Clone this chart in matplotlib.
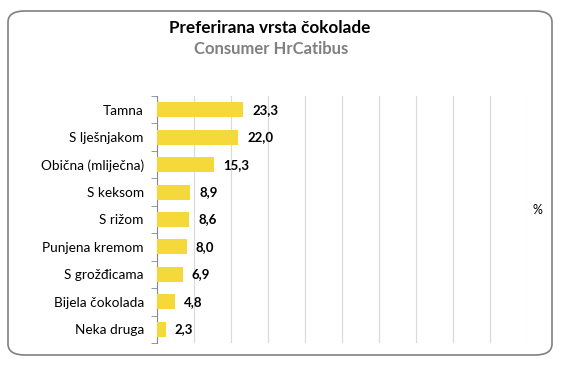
import matplotlib.pyplot as plt
from matplotlib.patches import FancyBboxPatch

categories = ['Tamna', 'S lješnjakom', 'Obična (mliječna)', 'S keksom', 'S rižom',
              'Punjena kremom', 'S grožđicama', 'Bijela čokolada', 'Neka druga']
values = [23.3, 22.0, 15.3, 8.9, 8.6, 8.0, 6.9, 4.8, 2.3]

plt.rcParams['font.family'] = ['Lato', 'DejaVu Sans']

W, H = 564, 371
fig = plt.figure(figsize=(W / 100, H / 100), dpi=100)

# rounded outer frame
frame = FancyBboxPatch((8 / W, 1 - 355 / H), (552 - 8) / W, (355 - 11) / H,
                       boxstyle='round,pad=0,rounding_size=0.03',
                       transform=fig.transFigure, facecolor='white',
                       edgecolor='#808080', linewidth=1.2, zorder=-1)
fig.patches.append(frame)

ax = fig.add_axes([157 / W, 1 - 343 / H, (527 - 157) / W, (343 - 96) / H])
ax.set_facecolor('none')
ax.set_zorder(2)

y = range(len(categories))
ax.barh(y, values, height=0.55, color='#F5D93A', zorder=3)
for i, v in enumerate(values):
    ax.text(v + 2.5, i, f'{v:.1f}'.replace('.', ','), va='center', ha='left',
            fontsize=9.5, fontweight='bold', color='black')

ax.set_xlim(0, 100)
ax.set_ylim(len(categories) - 0.5, -0.5)
ax.set_xticks(range(0, 101, 10))
ax.set_xticklabels([])
ax.tick_params(axis='x', length=0)
ax.grid(axis='x', color='#d9d9d9', linewidth=0.8, zorder=0)

ax.set_yticks(y)
ax.set_yticklabels(categories, fontsize=9.8)
ax.set_yticks([i - 0.5 for i in range(len(categories) + 1)], minor=True)
ax.tick_params(axis='y', which='major', length=0, pad=9.5)
ax.tick_params(axis='y', which='minor', length=4, color='#888888', direction='out')

for s in ['top', 'right', 'bottom']:
    ax.spines[s].set_visible(False)
ax.spines['left'].set_color('#888888')

fig.text(537 / W, 1 - 210 / H, '%', ha='center', va='center', fontsize=9)
fig.text(270 / W, 1 - 28 / H, 'Preferirana vrsta čokolade', ha='center', va='center',
         fontsize=12.3, fontweight='bold')
fig.text(271 / W, 1 - 48.5 / H, 'Consumer HrCatibus', ha='center', va='center',
         fontsize=12, fontweight='bold', color='#808080')

fig.savefig('out.png', dpi=100)
